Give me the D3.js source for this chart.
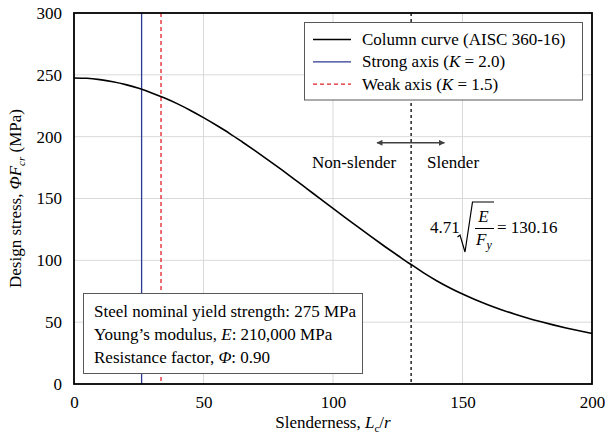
<!DOCTYPE html>
<html><head><meta charset="utf-8">
<script src="https://cdn.jsdelivr.net/npm/d3@7"></script>
<style>
body{margin:0;background:#fff;}
svg{display:block;}
svg text{font-family:"Liberation Serif","Times New Roman",Tinos,serif !important;}
</style></head>
<body><svg id="c" width="605" height="437"></svg>
<script>
// ---- data ----
const slenderness = [0,5,10,15,20,25,30,35,40,45,50,55,60,65,70,75,80,85,90,95,100,105,110,115,120,125,130,130.16,135,140,145,150,155,160,165,170,175,180,185,190,195,200];
const designStress = [247.5,247.2,246.1,244.4,242.1,239.1,235.4,231.2,226.5,221.2,215.4,209.2,202.7,195.7,188.5,181.1,173.5,165.7,157.8,149.9,142.0,134.2,126.4,118.7,111.2,103.9,96.8,96.6,89.8,83.5,77.8,72.7,68.1,63.9,60.1,56.6,53.4,50.5,47.8,45.3,43.0,40.9];
const strongAxisX = 26.1;
const weakAxisX = 33.6;
const limitX = 130.16;
const xTicks = [0,50,100,150,200];
const yTicks = [0,50,100,150,200,250,300];
const arrowRange = [117, 143];
const arrowY = 195;

const FF = "Times New Roman";
const svg = d3.select("#c");
const m = {l:74, r:592, t:13, b:384};
const x = d3.scaleLinear().domain([0,200]).range([m.l, m.r]);
const y = d3.scaleLinear().domain([0,300]).range([m.b, m.t]);
const FS = 17;

// grid
svg.append("g").selectAll("line").data(xTicks.slice(1,-1)).join("line")
  .attr("x1",d=>x(d)).attr("x2",d=>x(d)).attr("y1",m.t).attr("y2",m.b)
  .attr("stroke","#d9d9d9").attr("stroke-width",1);
svg.append("g").selectAll("line").data(yTicks.slice(1,-1)).join("line")
  .attr("x1",m.l).attr("x2",m.r).attr("y1",d=>y(d)).attr("y2",d=>y(d))
  .attr("stroke","#d9d9d9").attr("stroke-width",1);

// axes (labels only)
const xa = svg.append("g").attr("transform",`translate(0,${m.b})`)
  .call(d3.axisBottom(x).tickValues(xTicks).tickSize(0).tickPadding(12));
const ya = svg.append("g").attr("transform",`translate(${m.l},0)`)
  .call(d3.axisLeft(y).tickValues(yTicks).tickSize(0).tickPadding(12));
[xa,ya].forEach(a=>{a.attr("font-family",FF).attr("font-size",FS); a.select(".domain").remove();
  a.selectAll("text").attr("font-family",FF).attr("font-size",FS).attr("fill","#000");});

// vertical lines
svg.append("line").attr("x1",x(strongAxisX)).attr("x2",x(strongAxisX)).attr("y1",m.t).attr("y2",m.b)
  .attr("stroke","#2b3990").attr("stroke-width",1.3);
svg.append("line").attr("x1",x(weakAxisX)).attr("x2",x(weakAxisX)).attr("y1",m.t).attr("y2",m.b)
  .attr("stroke","#e0202a").attr("stroke-width",1.3).attr("stroke-dasharray","4,3");
svg.append("line").attr("x1",x(limitX)).attr("x2",x(limitX)).attr("y1",m.t).attr("y2",m.b)
  .attr("stroke","#000").attr("stroke-width",1.3).attr("stroke-dasharray","3,3");

// curve
const pts = slenderness.map((s,i)=>[s,designStress[i]]);
svg.append("path").datum(pts)
  .attr("d", d3.line().x(d=>x(d[0])).y(d=>y(d[1])).curve(d3.curveMonotoneX))
  .attr("fill","none").attr("stroke","#000").attr("stroke-width",1.6);

// frame
svg.append("rect").attr("x",m.l).attr("y",m.t).attr("width",m.r-m.l).attr("height",m.b-m.t)
  .attr("fill","none").attr("stroke","#000").attr("stroke-width",1.8);

function txt(xx,yy,anchor){
  return svg.append("text").attr("x",xx).attr("y",yy).attr("text-anchor",anchor||"start")
    .attr("font-family",FF).attr("font-size",FS).attr("fill","#000");
}

// arrow
const defs = svg.append("defs");
defs.append("marker").attr("id","ah").attr("viewBox","0 0 10 10").attr("refX",9).attr("refY",5)
  .attr("markerWidth",8).attr("markerHeight",6).attr("markerUnits","userSpaceOnUse").attr("orient","auto-start-reverse")
  .append("path").attr("d","M0,0 L10,5 L0,10 z").attr("fill","#404040");
svg.append("line").attr("x1",x(arrowRange[0])).attr("x2",x(arrowRange[1])).attr("y1",y(arrowY)).attr("y2",y(arrowY))
  .attr("stroke","#404040").attr("stroke-width",1.5)
  .attr("marker-start","url(#ah)").attr("marker-end","url(#ah)");
txt(x(limitX)-15, y(arrowY)+25, "end").text("Non-slender");
txt(x(limitX)+16, y(arrowY)+25, "start").text("Slender");

// formula
txt(430,233).text("4.71");
svg.append("path").attr("d","M457.5,237 L460,235 L465,252 L472.5,202 L494,202")
  .attr("fill","none").attr("stroke","#000").attr("stroke-width",1.2);
txt(483.5,222,"middle").attr("font-style","italic").text("E");
svg.append("line").attr("x1",475).attr("x2",494).attr("y1",228.5).attr("y2",228.5).attr("stroke","#000").attr("stroke-width",1);
const fy = txt(476,245);
fy.append("tspan").attr("font-style","italic").text("F");
fy.append("tspan").attr("font-style","italic").attr("font-size",12).attr("dy",4).text("y");
txt(497,233).text("= 130.16");

// legend
svg.append("rect").attr("x",304.5).attr("y",22.5).attr("width",278).attr("height",77.5)
  .attr("fill","#fff").attr("stroke","#595959").attr("stroke-width",1);
const leg = [
  {c:"#000",d:null,parts:[["Column curve (AISC 360-16)",false]]},
  {c:"#2b3990",d:null,parts:[["Strong axis (",false],["K",true],[" = 2.0)",false]]},
  {c:"#e0202a",d:"4,3",parts:[["Weak axis (",false],["K",true],[" = 1.5)",false]]}
];
leg.forEach((e,i)=>{
  const yy = 39.5 + i*22.3;
  svg.append("line").attr("x1",313).attr("x2",351).attr("y1",yy).attr("y2",yy)
    .attr("stroke",e.c).attr("stroke-width",1.3).attr("stroke-dasharray",e.d);
  const t = txt(362, yy+5.5);
  e.parts.forEach(p=>t.append("tspan").attr("font-style",p[1]?"italic":null).text(p[0]));
});

// info box
svg.append("rect").attr("x",83.5).attr("y",293.5).attr("width",279).attr("height",80)
  .attr("fill","#fff").attr("stroke","#595959").attr("stroke-width",1);
const info = [
  [["Steel nominal yield strength: 275 MPa",false]],
  [["Young\u2019s modulus, ",false],["E",true],[": 210,000 MPa",false]],
  [["Resistance factor, ",false],["\u03A6",true],[": 0.90",false]]
];
info.forEach((line,i)=>{
  const t = txt(94, 316.5+i*23);
  line.forEach(p=>t.append("tspan").attr("font-style",p[1]?"italic":null).text(p[0]));
});

// axis titles
const xt = txt((m.l+m.r)/2, 428, "middle");
xt.append("tspan").text("Slenderness, ");
xt.append("tspan").attr("font-style","italic").text("L");
xt.append("tspan").attr("font-size",11).attr("dy",4).text("c");
xt.append("tspan").attr("dy",-4).text("/");
xt.append("tspan").attr("font-style","italic").text("r");

const yt = svg.append("text").attr("transform",`translate(21,${(m.t+m.b)/2}) rotate(-90)`)
  .attr("text-anchor","middle").attr("font-family",FF).attr("font-size",FS);
yt.append("tspan").text("Design stress, ");
yt.append("tspan").attr("font-style","italic").text("\u03A6F");
yt.append("tspan").attr("font-style","italic").attr("font-size",11).attr("dy",4).text("cr");
yt.append("tspan").attr("dy",-4).text(" (MPa)");
</script></body></html>
